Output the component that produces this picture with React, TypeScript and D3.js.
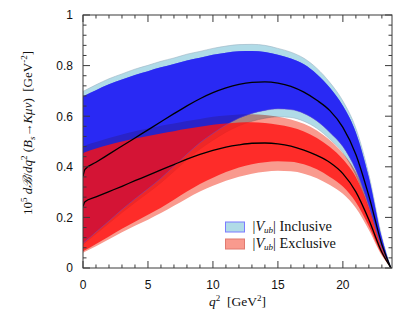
import React from "react";
import * as d3 from "d3";

// q^2 grid [GeV^2]
const Q2 = [0, 0.15, 1, 2, 3, 4, 5, 6, 7, 8, 9, 10, 11, 12, 13, 14, 15, 16, 17, 18, 19, 20, 21, 22, 23, 23.7];

// Exclusive |Vub|
const EXCL_CENTRAL = [0.243, 0.262, 0.281, 0.302, 0.323, 0.345, 0.366, 0.388, 0.409, 0.430, 0.449, 0.465, 0.478, 0.487, 0.493, 0.494, 0.491, 0.482, 0.466, 0.445, 0.417, 0.373, 0.301, 0.191, 0.062, 0];
const EXCL_INNER_HI = [0.455, 0.458, 0.472, 0.487, 0.500, 0.512, 0.522, 0.532, 0.541, 0.550, 0.558, 0.566, 0.571, 0.575, 0.576, 0.573, 0.566, 0.556, 0.540, 0.514, 0.478, 0.430, 0.360, 0.240, 0.080, 0];
const EXCL_INNER_LO = [0.066, 0.070, 0.095, 0.125, 0.155, 0.183, 0.210, 0.238, 0.270, 0.302, 0.332, 0.357, 0.379, 0.397, 0.410, 0.418, 0.422, 0.420, 0.410, 0.390, 0.360, 0.322, 0.260, 0.165, 0.054, 0];
const EXCL_OUTER_HI = [0.480, 0.484, 0.498, 0.514, 0.528, 0.541, 0.551, 0.562, 0.571, 0.581, 0.589, 0.598, 0.603, 0.607, 0.608, 0.605, 0.598, 0.587, 0.570, 0.543, 0.505, 0.454, 0.380, 0.253, 0.085, 0];
const EXCL_OUTER_LO = [0.060, 0.064, 0.086, 0.114, 0.141, 0.167, 0.191, 0.217, 0.246, 0.275, 0.302, 0.325, 0.345, 0.361, 0.373, 0.380, 0.384, 0.382, 0.373, 0.355, 0.328, 0.293, 0.237, 0.150, 0.049, 0];

// Inclusive |Vub|
const INCL_CENTRAL = [0.362, 0.390, 0.418, 0.450, 0.482, 0.514, 0.546, 0.578, 0.610, 0.641, 0.669, 0.693, 0.712, 0.726, 0.734, 0.736, 0.731, 0.718, 0.695, 0.663, 0.622, 0.556, 0.449, 0.285, 0.093, 0];
const INCL_INNER_HI = [0.678, 0.682, 0.703, 0.726, 0.745, 0.763, 0.778, 0.793, 0.806, 0.820, 0.831, 0.843, 0.851, 0.857, 0.858, 0.854, 0.843, 0.828, 0.805, 0.766, 0.712, 0.641, 0.536, 0.358, 0.119, 0];
const INCL_INNER_LO = [0.098, 0.104, 0.142, 0.186, 0.231, 0.273, 0.313, 0.355, 0.402, 0.450, 0.495, 0.532, 0.565, 0.592, 0.611, 0.623, 0.629, 0.626, 0.611, 0.581, 0.536, 0.480, 0.387, 0.246, 0.080, 0];
const INCL_OUTER_HI = [0.698, 0.702, 0.724, 0.748, 0.767, 0.786, 0.801, 0.817, 0.830, 0.845, 0.856, 0.868, 0.877, 0.883, 0.884, 0.880, 0.868, 0.853, 0.829, 0.789, 0.733, 0.660, 0.552, 0.369, 0.123, 0];
const INCL_OUTER_LO = [0.093, 0.099, 0.135, 0.177, 0.219, 0.259, 0.297, 0.337, 0.382, 0.428, 0.470, 0.505, 0.537, 0.562, 0.580, 0.592, 0.598, 0.595, 0.580, 0.552, 0.509, 0.456, 0.368, 0.234, 0.076, 0];

const X_TICKS = [0, 5, 10, 15, 20];
const Y_TICKS = [0, 0.2, 0.4, 0.6, 0.8, 1];
const Y_TICK_LABELS = ["0", "0.2", "0.4", "0.6", "0.8", "1"];
const LEGEND_LABELS = ["Inclusive", "Exclusive"];

const W = 407;
const H = 326;
const L = 83, R = 392, T = 15, B = 268;

export default function App() {
  const x = d3.scaleLinear().domain([0, 23.78]).range([L, R]);
  const y = d3.scaleLinear().domain([0, 1]).range([B, T]);

  const band = (lo: number[], hi: number[]) =>
    d3.area<number>()
      .x((d) => x(d))
      .y0((_, i) => y(lo[i]))
      .y1((_, i) => y(hi[i]))
      .curve(d3.curveMonotoneX)(Q2) as string;
  const line = (v: number[]) =>
    d3.line<number>()
      .x((d) => x(d))
      .y((_, i) => y(v[i]))
      .curve(d3.curveMonotoneX)(Q2) as string;

  const xMinor = d3.range(0, 24, 1);
  const yMinor = d3.range(0, 1.0001, 0.04);
  const sans = "'Liberation Sans', Arial, sans-serif";
  const serif = "'Liberation Serif', 'Times New Roman', serif";
  const frame = "#3a3a3a";
  const blueBand = band(INCL_INNER_LO, INCL_INNER_HI);

  return (
    <svg width={W} height={H} style={{ display: "block", position: "absolute", left: 0, top: 0 }}>
      <rect x={0} y={0} width={W} height={H} fill="#fff" />
      <defs>
        <clipPath id="plotclip">
          <rect x={L} y={T} width={R - L} height={B - T} />
        </clipPath>
      </defs>
      <g clipPath="url(#plotclip)">
        <path d={band(INCL_OUTER_LO, INCL_OUTER_HI)} fill="#b0dbe7" stroke="#9fb6c4" strokeWidth={0.6} />
        <path d={blueBand} fill="#2a2af4" />
        <path d={band(EXCL_OUTER_LO, EXCL_OUTER_HI)} fill="#f99a8e" style={{ mixBlendMode: "multiply" }} />
        <path d={blueBand} fill="#2a2af4" opacity={0.6} />
        <path d={band(EXCL_INNER_LO, EXCL_INNER_HI)} fill="#ff1010" opacity={0.8} />
        <path d={line(INCL_INNER_LO)} fill="none" stroke="#6a50c8" strokeOpacity={0.7} strokeWidth={0.7} />
        <path d={line(INCL_CENTRAL)} fill="none" stroke="#000" strokeWidth={1.3} />
        <path d={line(EXCL_CENTRAL)} fill="none" stroke="#000" strokeWidth={1.3} />
      </g>

      {/* frame */}
      <rect x={L} y={T} width={R - L} height={B - T} fill="none" stroke={frame} strokeWidth={1} />
      {xMinor.map((v) => {
        const major = v % 5 === 0;
        const len = major ? 7 : 3.5;
        return (
          <g key={"xt" + v}>
            <line x1={x(v)} x2={x(v)} y1={B} y2={B - len} stroke={frame} strokeWidth={1} />
            <line x1={x(v)} x2={x(v)} y1={T} y2={T + len} stroke={frame} strokeWidth={1} />
          </g>
        );
      })}
      {yMinor.map((v, i) => {
        const major = i % 5 === 0;
        const len = major ? 7 : 3.5;
        return (
          <g key={"yt" + i}>
            <line x1={L} x2={L + len} y1={y(v)} y2={y(v)} stroke={frame} strokeWidth={1} />
            <line x1={R} x2={R - len} y1={y(v)} y2={y(v)} stroke={frame} strokeWidth={1} />
          </g>
        );
      })}
      {X_TICKS.map((v) => (
        <text key={"xl" + v} x={x(v)} y={289} fontFamily={sans} fontSize={12} textAnchor="middle" fill="#111">
          {v}
        </text>
      ))}
      {Y_TICKS.map((v, i) => (
        <text key={"yl" + i} x={73} y={y(v) + 4.3} fontFamily={sans} fontSize={12} textAnchor="end" fill="#111">
          {Y_TICK_LABELS[i]}
        </text>
      ))}

      {/* x title */}
      <text x={(L + R) / 2} y={306} fontFamily={serif} fontSize={13.5} textAnchor="middle" fill="#111">
        <tspan fontStyle="italic">q</tspan>
        <tspan fontSize={9} dy={-5}>2</tspan>
        <tspan dy={5}>{"\u00a0\u00a0[GeV"}</tspan>
        <tspan fontSize={9} dy={-5}>2</tspan>
        <tspan dy={5}>]</tspan>
      </text>

      {/* y title */}
      <text transform="translate(32,133) rotate(-90)" fontFamily={serif} fontSize={13} textAnchor="middle" fill="#111">
        <tspan>10</tspan>
        <tspan fontSize={9} dy={-5}>5</tspan>
        <tspan dy={5}>{" "}</tspan>
        <tspan fontStyle="italic">d</tspan>
        <tspan fontStyle="italic">{"\u212C"}</tspan>
        <tspan>/</tspan>
        <tspan fontStyle="italic">dq</tspan>
        <tspan fontSize={9} dy={-5}>2</tspan>
        <tspan dy={5}>{" ("}</tspan>
        <tspan fontStyle="italic">B</tspan>
        <tspan fontStyle="italic" fontSize={9} dy={3}>s</tspan>
        <tspan dy={-3}>{"\u2192"}</tspan>
        <tspan fontStyle="italic">{"K\u03bc\u03bd"}</tspan>
        <tspan>{")\u00a0\u00a0[GeV"}</tspan>
        <tspan fontSize={9} dy={-5}>{"-2"}</tspan>
        <tspan dy={5}>]</tspan>
      </text>

      {/* legend */}
      <rect x={225.5} y={222} width={19} height={10} fill="#b0dbe7" stroke="#7b7bff" strokeWidth={1} />
      <rect x={225.5} y={239} width={19} height={10} fill="#f99a8e" stroke="#e07a70" strokeWidth={1} />
      {LEGEND_LABELS.map((lab, i) => (
        <text key={lab} x={252.5} y={231 + i * 17} fontFamily={serif} fontSize={14.3} fill="#111">
          <tspan>|</tspan>
          <tspan fontStyle="italic">V</tspan>
          <tspan fontStyle="italic" fontSize={9} dy={2}>ub</tspan>
          <tspan dy={-2}>{"| " + lab}</tspan>
        </text>
      ))}
    </svg>
  );
}
